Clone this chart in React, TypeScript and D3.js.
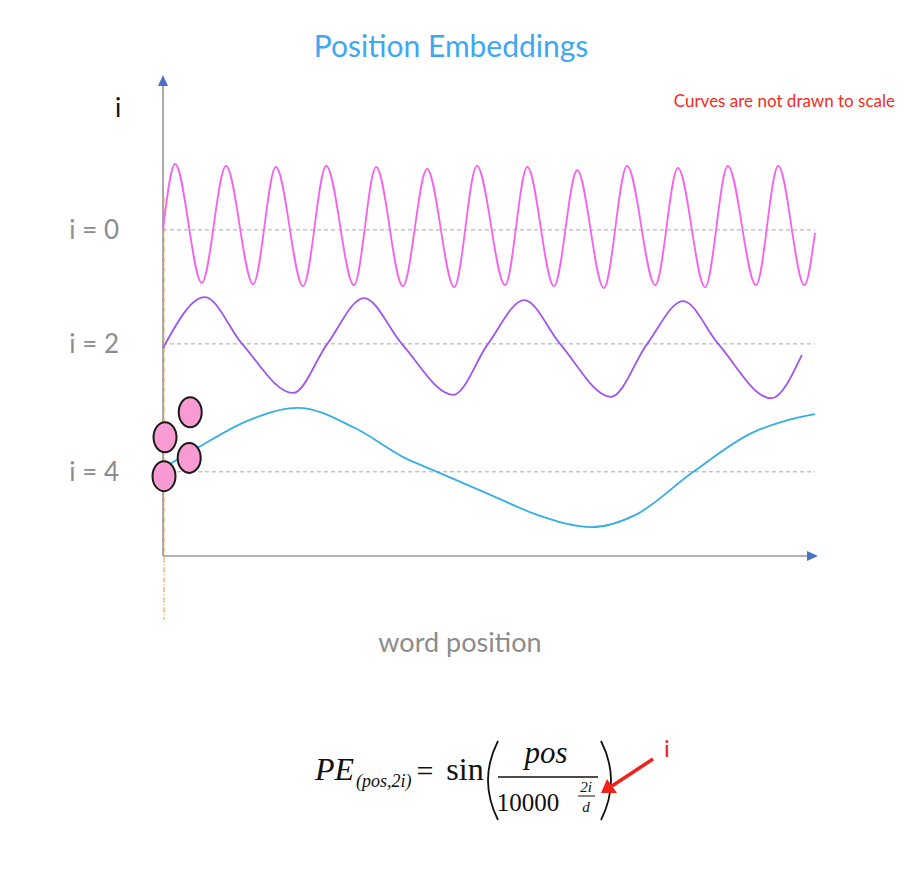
import { useEffect, useRef } from 'react';
import * as d3 from 'd3';

// curve points: [word position, height]
const highFreq: [number, number][] = [
  [0, 68.0], [0.24, 81.5], [0.77, 56.8], [1.25, 81.1], [1.79, 56.5], [2.24, 80.9],
  [2.78, 56.1], [3.24, 81.1], [3.79, 56.3], [4.23, 80.9], [4.76, 56.1], [5.24, 80.5],
  [5.78, 55.9], [6.23, 81.1], [6.79, 56.3], [7.23, 80.9], [7.76, 56.1], [8.22, 80.2],
  [8.75, 55.7], [9.21, 81.1], [9.77, 56.3], [10.22, 80.7], [10.76, 55.9], [11.21, 81.1],
  [11.77, 56.3], [12.21, 81.1], [12.73, 56.3], [12.94, 67.2],
];

const midFreq: [number, number][] = [
  [0, 43.2], [0.83, 53.8], [1.57, 44.1], [2.58, 33.9], [3.26, 44.1], [3.99, 53.6],
  [4.74, 44.1], [5.76, 33.5], [6.45, 44.1], [7.17, 53.2], [7.88, 44.1], [8.89, 33.1],
  [9.61, 44.1], [10.32, 53.0], [11.02, 44.1], [12.07, 32.8], [12.68, 41.8],
];

const lowFreq: [number, number][] = [
  [0, 18.3], [0.69, 22.5], [1.63, 27.9], [2.68, 30.8], [3.81, 26.6], [4.8, 20.4],
  [5.44, 17.5], [6.59, 12.3], [7.44, 8.5], [8.52, 6.0], [9.37, 8.5], [10.5, 17.3],
  [11.69, 25.6], [12.35, 28.1], [12.94, 29.5],
];

const levelLabels = ['i = 0', 'i = 2', 'i = 4'];
const levelValues = [67.8, 44.1, 17.5];

// the pink "word" tokens near the origin
const tokens: [number, number][] = [[0.54, 29.9], [0.04, 24.7], [0.52, 20.4], [0.02, 16.6]];

const guideRange = [74.6, -13.3];

export default function App() {
  const svgRef = useRef<SVGSVGElement>(null);

  useEffect(() => {
    if (!svgRef.current) return;
    const svg = d3.select(svgRef.current);
    svg.selectAll('*').remove();

    const x = d3.scaleLinear().domain([0, 13]).range([163, 818]);
    const y = d3.scaleLinear().domain([0, 100]).range([556, 75]);
    const sans = 'Lato, "Open Sans", sans-serif';
    const serif = '"Liberation Serif", "DejaVu Serif", serif';

    // Title
    svg.append('text')
      .attr('x', 451).attr('y', 57)
      .attr('text-anchor', 'middle')
      .attr('font-family', sans).attr('font-size', 30)
      .attr('fill', '#3ea7f0')
      .text('Position Embeddings');

    svg.append('text')
      .attr('x', 895).attr('y', 107)
      .attr('text-anchor', 'end')
      .attr('font-family', sans).attr('font-size', 17)
      .attr('fill', '#f52a1c')
      .text('Curves are not drawn to scale');

    // Dashed level lines
    svg.selectAll('.level')
      .data(levelValues)
      .enter()
      .append('line')
      .attr('x1', x(0)).attr('x2', x(12.94))
      .attr('y1', d => y(d)).attr('y2', d => y(d))
      .attr('stroke', '#a8a8a8')
      .attr('stroke-width', 1)
      .attr('stroke-dasharray', '4,3');

    svg.selectAll('.level-label')
      .data(levelValues)
      .enter()
      .append('text')
      .attr('x', 119).attr('y', d => y(d))
      .attr('dy', '0.36em')
      .attr('text-anchor', 'end')
      .attr('font-family', sans).attr('font-size', 26)
      .attr('fill', '#8c8c8c')
      .text((_, i) => levelLabels[i]);

    svg.append('text')
      .attr('x', 118).attr('y', 117)
      .attr('text-anchor', 'middle')
      .attr('font-family', sans).attr('font-size', 26)
      .attr('fill', '#111')
      .text('i');

    // Axes with arrowheads
    svg.append('line')
      .attr('x1', x(0)).attr('x2', x(0))
      .attr('y1', y(0)).attr('y2', y(100) + 8)
      .attr('stroke', '#707070').attr('stroke-width', 1.2);
    svg.append('line')
      .attr('x1', x(0)).attr('x2', x(13) - 8)
      .attr('y1', y(0)).attr('y2', y(0))
      .attr('stroke', '#9a9a9a').attr('stroke-width', 1.5);

    const arrow = '#4a72c4';
    svg.append('path')
      .attr('d', `M${x(0)},${y(100)} l-5,11 l10,0 z`)
      .attr('fill', arrow);
    svg.append('path')
      .attr('d', `M${x(13)},${y(0)} l-11,-5 l0,10 z`)
      .attr('fill', arrow);

    // Orange guide
    svg.append('line')
      .attr('x1', x(0) + 1).attr('x2', x(0) + 1)
      .attr('y1', y(guideRange[0])).attr('y2', y(guideRange[1]))
      .attr('stroke', '#f0a050').attr('stroke-width', 1.2)
      .attr('stroke-dasharray', '5,2,1,2');

    // Curves
    const line = d3.line<[number, number]>()
      .x(d => x(d[0]))
      .y(d => y(d[1]))
      .curve(d3.curveMonotoneX);

    const curves: [[number, number][], string][] = [
      [highFreq, '#f462ee'],
      [midFreq, '#a056ee'],
      [lowFreq, '#37ade8'],
    ];
    curves.forEach(([data, color]) => {
      svg.append('path')
        .datum(data)
        .attr('fill', 'none')
        .attr('stroke', color)
        .attr('stroke-width', 1.8)
        .attr('d', line);
    });

    // Tokens
    svg.selectAll('.token')
      .data(tokens)
      .enter()
      .append('ellipse')
      .attr('cx', d => x(d[0]))
      .attr('cy', d => y(d[1]))
      .attr('rx', 11.5).attr('ry', 15)
      .attr('fill', '#f79bd2')
      .attr('stroke', '#1a1a1a')
      .attr('stroke-width', 2);

    // x label
    svg.append('text')
      .attr('x', 460).attr('y', 652)
      .attr('text-anchor', 'middle')
      .attr('font-family', sans).attr('font-size', 27)
      .attr('fill', '#8c8c8c')
      .text('word position');

    // Formula
    const f = svg.append('g').attr('font-family', serif).attr('fill', '#111');
    const piece = (tx: number, ty: number, size: number, anchor: string, str: string, italic = true) =>
      f.append('text')
        .attr('x', tx).attr('y', ty)
        .attr('font-size', size)
        .attr('text-anchor', anchor)
        .attr('font-style', italic ? 'italic' : 'normal')
        .text(str);

    piece(354, 780, 32, 'end', 'PE');
    piece(356, 787, 18, 'start', '(pos,2i)');
    piece(425, 781, 30, 'middle', '=', false);
    piece(465, 780, 32, 'middle', 'sin', false);
    piece(546, 763, 31, 'middle', 'pos');
    piece(528, 811, 25, 'middle', '10000', false);
    piece(586, 792, 15, 'middle', '2i');
    piece(586, 812, 15, 'middle', 'd');

    f.append('line').attr('x1', 498).attr('x2', 598).attr('y1', 777).attr('y2', 777)
      .attr('stroke', '#111').attr('stroke-width', 1.3);
    f.append('line').attr('x1', 578).attr('x2', 595).attr('y1', 796).attr('y2', 796)
      .attr('stroke', '#111').attr('stroke-width', 1);

    // big parentheses
    const lp = d3.path();
    lp.moveTo(498, 741);
    lp.quadraticCurveTo(478, 780, 498, 820);
    const rp = d3.path();
    rp.moveTo(601, 741);
    rp.quadraticCurveTo(621, 780, 601, 820);
    [lp, rp].forEach(p => {
      f.append('path')
        .attr('d', p.toString())
        .attr('fill', 'none')
        .attr('stroke', '#111')
        .attr('stroke-width', 1.8);
    });

    // red annotation arrow
    svg.append('line')
      .attr('x1', 653).attr('y1', 759).attr('x2', 612).attr('y2', 786)
      .attr('stroke', '#f0221a').attr('stroke-width', 3.5);
    svg.append('path')
      .attr('d', 'M601,793 L607,779 L617,793 Z')
      .attr('fill', '#f0221a');
    svg.append('text')
      .attr('x', 667).attr('y', 757)
      .attr('text-anchor', 'middle')
      .attr('font-family', sans).attr('font-size', 24)
      .attr('fill', '#f0221a')
      .text('i');
  }, []);

  return (
    <svg
      ref={svgRef}
      width={919}
      height={877}
      style={{ position: 'absolute', left: 0, top: 0, background: '#fff' }}
    />
  );
}
